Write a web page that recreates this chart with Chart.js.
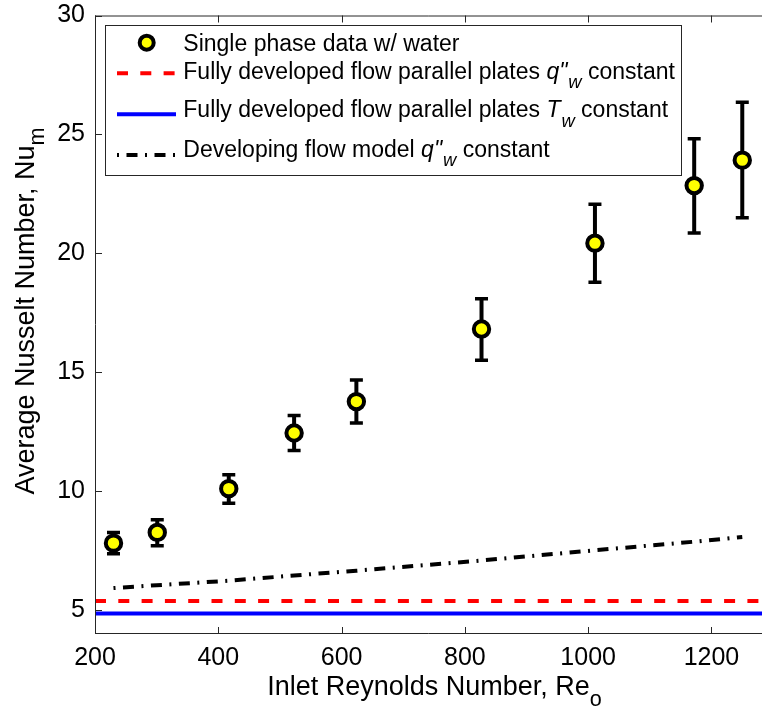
<!DOCTYPE html>
<html>
<head>
<meta charset="utf-8">
<script src="https://cdn.jsdelivr.net/npm/chart.js@4.4.1/dist/chart.umd.min.js"></script>
<style>
  html, body { margin: 0; padding: 0; background: #fff; overflow: hidden; }
  canvas { display: block; }
</style>
</head>
<body>
<canvas id="chart" width="762" height="708"></canvas>
<script>
// measured single phase points (Re, Nu with error bar limits)
const reInlet = [230, 301, 417, 523, 624, 827, 1011, 1172, 1250];
const nuMeasured = [7.82, 8.27, 10.11, 12.45, 13.77, 16.82, 20.43, 22.85, 23.92];
const nuLower = [7.37, 7.71, 9.50, 11.71, 12.87, 15.51, 18.79, 20.86, 21.50];
const nuUpper = [8.27, 8.80, 10.69, 13.18, 14.68, 18.09, 22.07, 24.82, 26.35];

// developing flow model curve
const modelRe = [230, 300, 417, 523, 624, 827, 1011, 1172, 1250];
const modelNu = [5.93, 6.05, 6.24, 6.46, 6.66, 7.09, 7.52, 7.88, 8.08];

// fully developed limits
const reRange = [200, 1300];
const nuFdQ = 5.385;
const nuFdT = 4.861;

const xTicks = [200, 400, 600, 800, 1000, 1200];
const yTicks = [5, 10, 15, 20, 25, 30];

const FONT = "'Liberation Sans', Arial, Helvetica, sans-serif";
Chart.defaults.font.family = FONT;
Chart.defaults.color = '#000';

const dashQ = [11, 12.3];
const dashDot = [11, 7.5, 2, 7.5];

// draw a string made of normal / italic / subscript pieces
function richWidth(ctx, parts, size) {
  let w = 0;
  parts.forEach(p => {
    const s = p.sub ? size * 0.8 : size;
    ctx.font = (p.italic ? 'italic ' : '') + s + 'px ' + FONT;
    w += ctx.measureText(p.t).width + (p.gap || 0);
  });
  return w;
}

function drawRich(ctx, parts, x, y, size, align) {
  let cx = align === 'center' ? x - richWidth(ctx, parts, size) / 2 : x;
  ctx.textAlign = 'left';
  ctx.textBaseline = 'alphabetic';
  parts.forEach(p => {
    const s = p.sub ? size * 0.8 : size;
    ctx.font = (p.italic ? 'italic ' : '') + s + 'px ' + FONT;
    ctx.fillText(p.t, cx, y + (p.sub ? size * 0.4 : 0));
    cx += ctx.measureText(p.t).width + (p.gap || 0);
  });
}

const legendRows = [
  { kind: 'marker', mid: 42.7, base: 51, parts: [{ t: 'Single phase data w/ water' }] },
  { kind: 'dash', mid: 73.3, base: 79, parts: [
    { t: 'Fully developed flow parallel plates ' }, { t: 'q"', italic: true, gap: 1 },
    { t: 'w', italic: true, sub: true }, { t: ' constant' }] },
  { kind: 'solid', mid: 114.3, base: 117.3, parts: [
    { t: 'Fully developed flow parallel plates ' }, { t: 'T', italic: true, gap: 1 },
    { t: 'w', italic: true, sub: true }, { t: ' constant' }] },
  { kind: 'dashdot', mid: 155, base: 156.7, parts: [
    { t: 'Developing flow model ' }, { t: 'q"', italic: true, gap: 1 },
    { t: 'w', italic: true, sub: true }, { t: ' constant' }] }
];

const framePlugin = {
  id: 'frame',
  beforeDatasetsDraw(chart) {
    const { ctx, scales: { x, y } } = chart;
    ctx.save();
    ctx.strokeStyle = '#000';
    reInlet.forEach((re, i) => {
      const px = x.getPixelForValue(re);
      const top = y.getPixelForValue(nuUpper[i]);
      const bot = y.getPixelForValue(nuLower[i]);
      ctx.lineWidth = 4;
      ctx.beginPath();
      ctx.moveTo(px, top);
      ctx.lineTo(px, bot);
      ctx.stroke();
      ctx.lineWidth = 3.5;
      ctx.beginPath();
      ctx.moveTo(px - 6.5, top);
      ctx.lineTo(px + 6.5, top);
      ctx.moveTo(px - 6.5, bot);
      ctx.lineTo(px + 6.5, bot);
      ctx.stroke();
    });
    ctx.restore();
  },
  afterDraw(chart) {
    const { ctx, chartArea: a, scales: { x, y } } = chart;
    ctx.save();

    // axes box (right side runs past the canvas) and inward ticks
    ctx.strokeStyle = '#262626';
    ctx.lineWidth = 1;
    ctx.beginPath();
    ctx.moveTo(a.left + 0.5, a.top + 0.5);
    ctx.lineTo(a.right, a.top + 0.5);
    ctx.moveTo(a.left + 0.5, a.top);
    ctx.lineTo(a.left + 0.5, a.bottom - 0.5);
    ctx.lineTo(a.right, a.bottom - 0.5);
    xTicks.forEach(v => {
      const px = Math.round(x.getPixelForValue(v)) + 0.5;
      ctx.moveTo(px, a.bottom);
      ctx.lineTo(px, a.bottom - 7);
      ctx.moveTo(px, a.top);
      ctx.lineTo(px, a.top + 7);
    });
    yTicks.forEach(v => {
      const py = Math.round(y.getPixelForValue(v)) + 0.5;
      ctx.moveTo(a.left, py);
      ctx.lineTo(a.left + 7, py);
    });
    ctx.stroke();

    // axis titles
    ctx.fillStyle = '#000';
    drawRich(ctx, [{ t: 'Inlet Reynolds Number, Re' }, { t: 'o', sub: true }], 434.5, 695, 27, 'center');
    ctx.save();
    ctx.translate(33.5, 311);
    ctx.rotate(-Math.PI / 2);
    drawRich(ctx, [{ t: 'Average Nusselt Number, Nu' }, { t: 'm', sub: true }], 0, 0, 27, 'center');
    ctx.restore();

    // legend
    ctx.fillStyle = '#fff';
    ctx.fillRect(105, 25, 576, 150);
    ctx.strokeStyle = '#262626';
    ctx.lineWidth = 1;
    ctx.strokeRect(105.5, 25.5, 576, 150);
    legendRows.forEach(r => {
      ctx.save();
      if (r.kind === 'marker') {
        ctx.beginPath();
        ctx.arc(146.7, r.mid, 7, 0, Math.PI * 2);
        ctx.fillStyle = '#ffff00';
        ctx.fill();
        ctx.lineWidth = 4;
        ctx.strokeStyle = '#000';
        ctx.stroke();
      } else {
        ctx.lineWidth = 4;
        if (r.kind === 'dash') { ctx.strokeStyle = '#ff0000'; ctx.setLineDash(dashQ); }
        if (r.kind === 'solid') { ctx.strokeStyle = '#0000ff'; }
        if (r.kind === 'dashdot') { ctx.strokeStyle = '#000'; ctx.setLineDash(dashDot); ctx.lineDashOffset = 18.5; }
        ctx.beginPath();
        ctx.moveTo(117, r.mid);
        ctx.lineTo(176, r.mid);
        ctx.stroke();
      }
      ctx.restore();
      ctx.fillStyle = '#000';
      drawRich(ctx, r.parts, 183.3, r.base, 23, 'left');
    });
    ctx.restore();
  }
};

new Chart(document.getElementById('chart').getContext('2d'), {
  type: 'scatter',
  data: {
    datasets: [
      {
        label: 'Single phase data w/ water',
        data: reInlet.map((re, i) => ({ x: re, y: nuMeasured[i] })),
        showLine: false,
        pointRadius: 7.7,
        pointHoverRadius: 7.7,
        pointBorderWidth: 4,
        pointBackgroundColor: '#ffff00',
        pointBorderColor: '#000'
      },
      {
        label: 'Fully developed q constant',
        data: reRange.map(re => ({ x: re, y: nuFdQ })),
        showLine: true,
        borderColor: '#ff0000',
        borderWidth: 4,
        borderDash: dashQ,
        pointRadius: 0
      },
      {
        label: 'Fully developed T constant',
        data: reRange.map(re => ({ x: re, y: nuFdT })),
        showLine: true,
        borderColor: '#0000ff',
        borderWidth: 4,
        pointRadius: 0
      },
      {
        label: 'Developing flow model',
        data: modelRe.map((re, i) => ({ x: re, y: modelNu[i] })),
        showLine: true,
        borderColor: '#000',
        borderWidth: 4,
        borderDash: dashDot,
        borderDashOffset: 18.5,
        pointRadius: 0
      }
    ]
  },
  options: {
    responsive: false,
    animation: false,
    events: [],
    layout: { autoPadding: false, padding: { top: 15.5, right: 0, left: 0, bottom: 0 } },
    plugins: { legend: { display: false }, tooltip: { enabled: false } },
    scales: {
      x: {
        type: 'linear',
        min: 200,
        max: 1282,
        afterBuildTicks: s => { s.ticks = xTicks.map(v => ({ value: v })); },
        afterFit: s => { s.height = 74; s.paddingLeft = 0; s.paddingRight = 0; },
        grid: { display: false, drawTicks: false },
        border: { display: false },
        ticks: { font: { size: 25 }, color: '#000', padding: 9, maxRotation: 0, callback: v => String(v) }
      },
      y: {
        type: 'linear',
        min: 4,
        max: 30,
        afterBuildTicks: s => { s.ticks = yTicks.map(v => ({ value: v })); },
        afterFit: s => { s.width = 95; s.paddingTop = 0; s.paddingBottom = 0; },
        grid: { display: false, drawTicks: false },
        border: { display: false },
        ticks: { font: { size: 25 }, color: '#000', padding: 10, callback: v => String(v) }
      }
    }
  },
  plugins: [framePlugin]
});
</script>
</body>
</html>
